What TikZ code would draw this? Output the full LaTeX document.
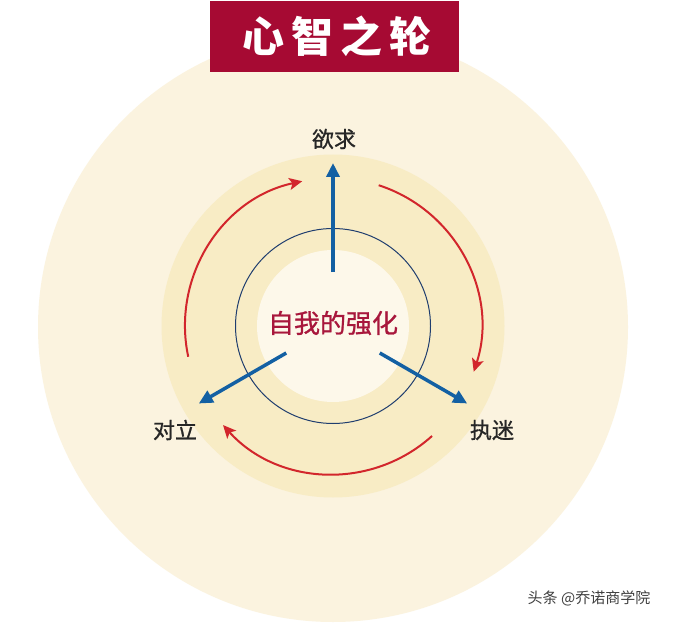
\documentclass[tikz,border=0pt]{standalone}
\usepackage{fontspec}
\newfontfamily\cjk{Noto Sans CJK SC}
\newfontfamily\cjkm{Noto Sans CJK SC}[FakeBold=0.9]
\usetikzlibrary{arrows.meta}
\definecolor{bigc}{HTML}{FBF3DF}
\definecolor{ringc}{HTML}{F8ECC5}
\definecolor{innerc}{HTML}{FDF8EA}
\definecolor{navyc}{HTML}{1F3D6E}
\definecolor{bluec}{HTML}{1360A3}
\definecolor{redc}{HTML}{D2262C}
\definecolor{titlec}{HTML}{A60A33}
\definecolor{crimc}{HTML}{A8173C}
\tikzset{
  bluearrow/.style={bluec, line width=3.5pt, -{Triangle[length=14pt,width=13pt]}},
  redarrow/.style={redc, line width=2pt, -{Stealth[length=13pt,width=12pt,inset=3pt]}},
  lbl/.style={font=\cjkm\fontsize{22}{24}\selectfont, text=black!85},
}
\begin{document}
\begin{tikzpicture}[x=1pt,y=1pt]
\useasboundingbox (0,0) rectangle (674,622);
\fill[white] (0,0) rectangle (674,622);
\coordinate (O) at (333,296);
\fill[bigc] (333,295) circle (295pt);
\fill[ringc] (O) circle (171.5pt);
\fill[innerc] (O) circle (76pt);
\draw[navyc, line width=1pt] (O) circle (97.5pt);
% blue arrows
\coordinate (u1) at ([shift={(90:54pt)}]O);
\coordinate (u2) at ([shift={(90:163pt)}]O);
\coordinate (l1) at ([shift={(210:54pt)}]O);
\coordinate (l2) at ([shift={(210:155pt)}]O);
\coordinate (r1) at ([shift={(-30:54pt)}]O);
\coordinate (r2) at ([shift={(-30:155pt)}]O);
\draw[bluearrow] (u1) -- (u2);
\draw[bluearrow] (l1) -- (l2);
\draw[bluearrow] (r1) -- (r2);
% red arcs
\draw[redarrow] ([shift={(192:148pt)}]O) arc[start angle=192, end angle=102, radius=148pt];
\draw[redarrow] ([shift={(72:148pt)}]O) arc[start angle=72, end angle=-18, radius=148pt];
\draw[redarrow] ([shift={(-48:148pt)}]O) arc[start angle=-48, end angle=-138, radius=148pt];
% labels
\node[lbl] (yq) at (334,483) {欲求};
\node[lbl] (dl) at (175,192) {对立};
\node[lbl] (zm) at (492,192) {执迷};
\node[font=\cjkm\fontsize{26}{28}\selectfont, text=crimc] (ctr) at (333,299) {自我的强化};
% title
\fill[titlec] (210,550) rectangle (459,621);
\node[font=\cjk\bfseries\fontsize{42}{44}\selectfont, text=white] (title) at (337,586) {心\,智\,之\,轮};
\node[font=\cjk\fontsize{15}{17}\selectfont, text=black!75] (wm) at (589,24) {头条 @乔诺商学院};
\end{tikzpicture}
\end{document}
